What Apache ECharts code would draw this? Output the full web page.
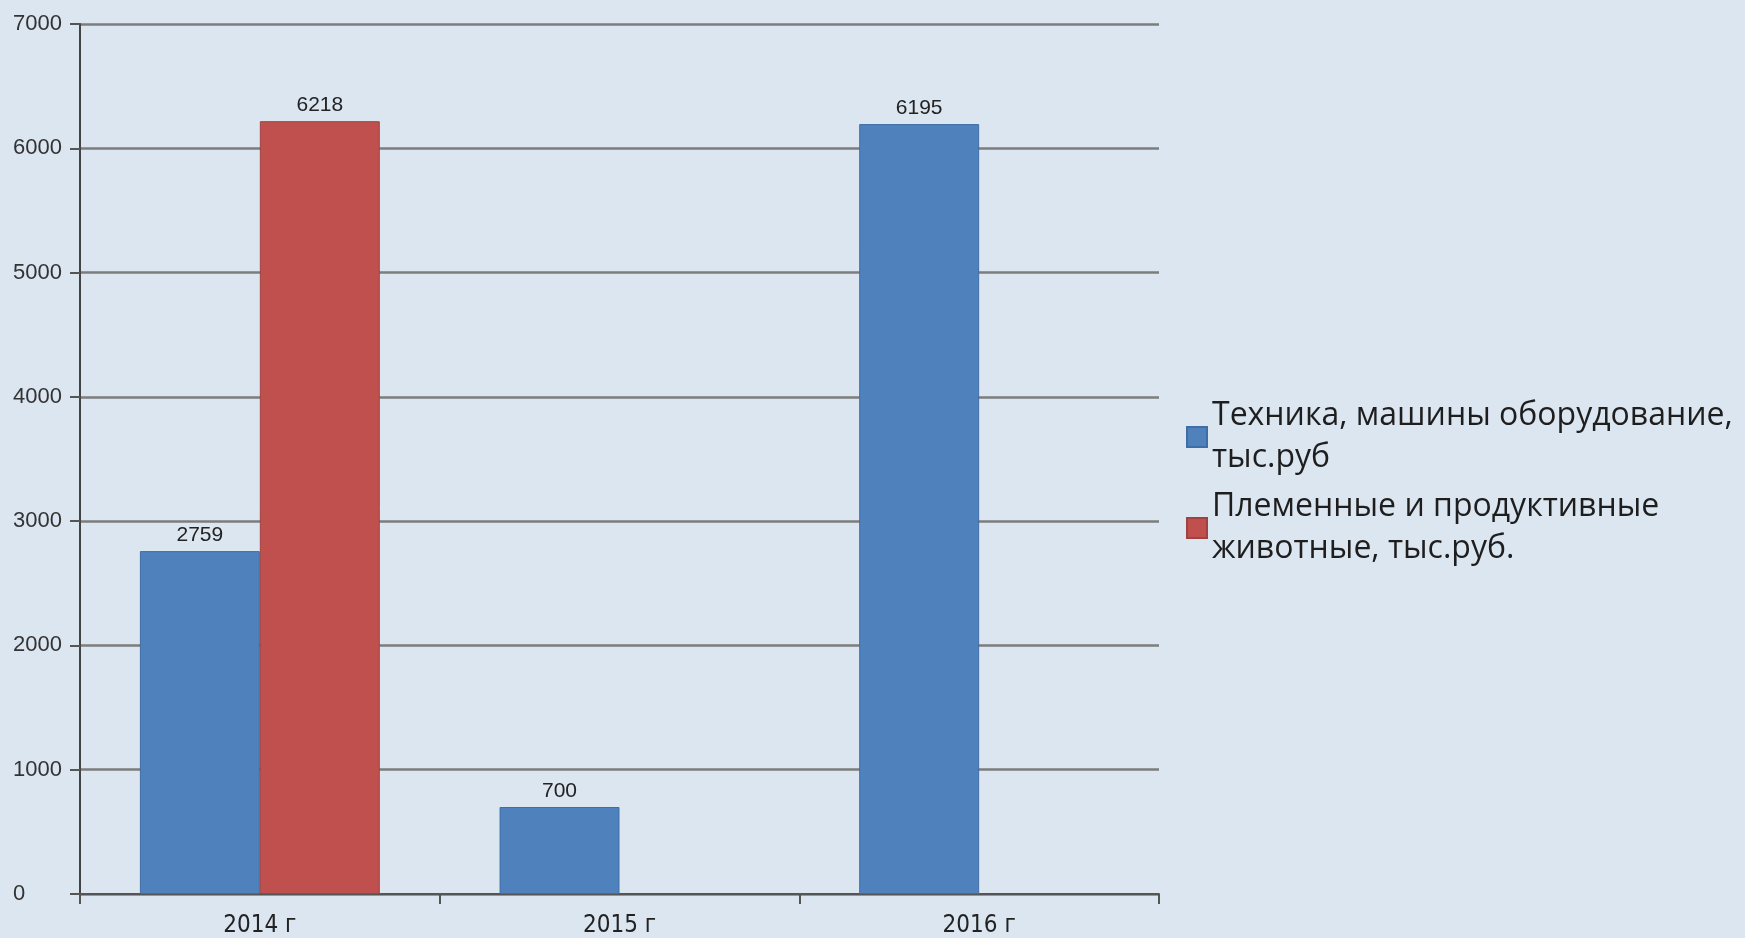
<!DOCTYPE html>
<html>
<head>
<meta charset="utf-8">
<script src="https://cdn.jsdelivr.net/npm/echarts@6/dist/echarts.min.js"></script>
<style>
html,body{margin:0;padding:0;background:#DCE6F1;}
#c{width:1745px;height:938px;}
</style>
</head>
<body>
<div id="c"></div>
<script>
const categories = ['2014 г', '2015 г', '2016 г'];
const seriesNames = ['Техника, машины оборудование,\nтыс.руб', 'Племенные и продуктивные\nживотные, тыс.руб.'];
const techValues = [2759, 700, 6195];
const animalValues = [6218, null, null];
const yTicks = [0, 1000, 2000, 3000, 4000, 5000, 6000, 7000];

const chart = echarts.init(document.getElementById('c'));
const labelStyle = {show: true, position: 'top', distance: 5, fontSize: 21, color: '#222', fontFamily: 'Liberation Sans'};
chart.setOption({
  backgroundColor: '#DCE6F1',
  animation: false,
  grid: {left: 80, right: 586, top: 24, bottom: 44, containLabel: false},
  legend: {
    orient: 'vertical', left: 1186, top: 395, padding: 0,
    itemWidth: 20, itemHeight: 20, itemGap: 7, icon: 'rect',
    textStyle: {fontSize: 32, lineHeight: 42, color: '#1e1e1e', fontFamily: 'Open Sans'},
    data: seriesNames
  },
  xAxis: {
    type: 'category', data: categories,
    axisLine: {lineStyle: {color: '#555', width: 2}},
    axisTick: {show: true, length: 10, lineStyle: {color: '#555', width: 2}},
    axisLabel: {margin: 20, fontSize: 24, color: '#222', fontFamily: 'Liberation Sans Narrow, DejaVu Sans Condensed, Liberation Sans'}
  },
  yAxis: {
    type: 'value', min: yTicks[0], max: yTicks[yTicks.length - 1], interval: 1000,
    axisLine: {show: true, lineStyle: {color: '#444', width: 2}},
    axisTick: {show: true, length: 10, lineStyle: {color: '#555', width: 2}},
    axisLabel: {align: 'left', margin: 67, fontSize: 22, color: '#333', fontFamily: 'Liberation Sans', formatter: v => String(v)},
    splitLine: {lineStyle: {color: '#7d7d7d', width: 2.5}}
  },
  series: [
    {name: seriesNames[0], type: 'bar', data: techValues, barGap: '0%', barCategoryGap: '33.3%',
     itemStyle: {color: '#4F81BD', borderColor: '#3f6ea6', borderWidth: 1}, label: labelStyle},
    {name: seriesNames[1], type: 'bar', data: animalValues, barGap: '0%', barCategoryGap: '33.3%',
     itemStyle: {color: '#C0504D', borderColor: '#a04240', borderWidth: 1}, label: labelStyle}
  ]
});
</script>
</body>
</html>
